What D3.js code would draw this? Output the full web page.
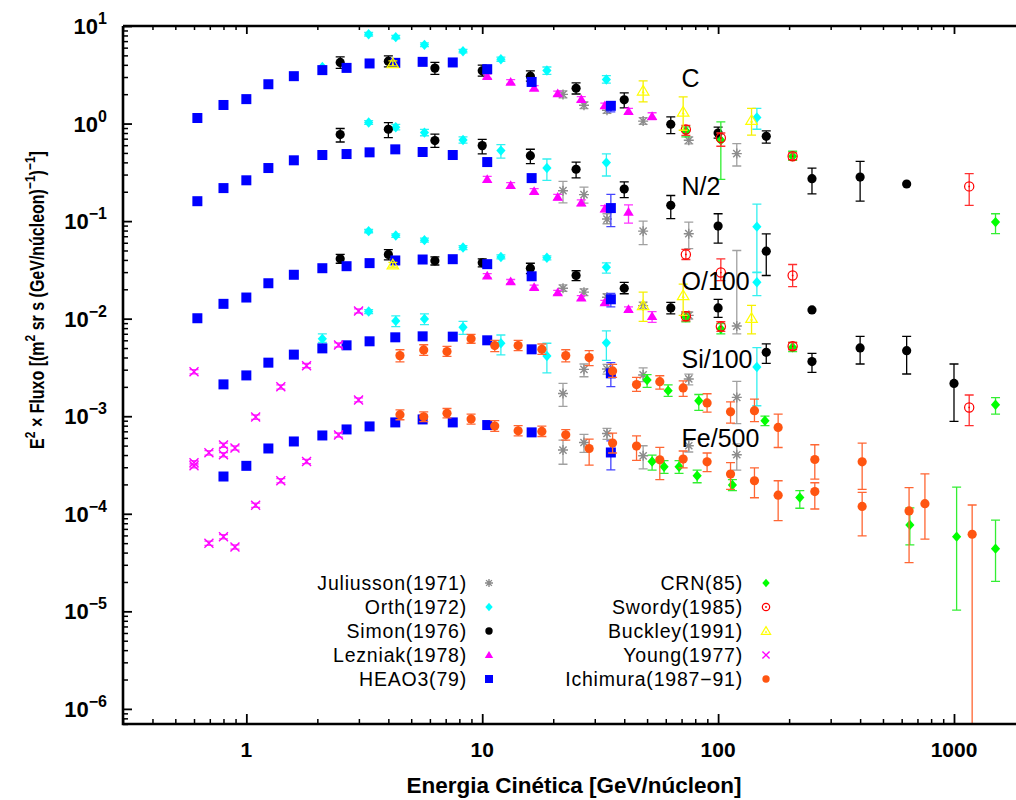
<!DOCTYPE html>
<html><head><meta charset="utf-8">
<script src="https://cdn.jsdelivr.net/npm/d3@7"></script>
<style>body{margin:0;background:#fff}svg{display:block}</style>
</head><body><svg id="c" width="1016" height="800"></svg>
<script>
// ---------- data: [E (GeV/nucleon), E^2 x flux, low, high] ----------
const juliusson = [
[22.0,1.99,1.83,2.16],[27.0,1.54,1.42,1.67],[33.8,1.37,1.27,1.48],[48.1,1.06,0.98,1.15],[75.1,0.674,0.62,0.73],[120,0.492,0.367,0.623],
[22.0,0.205,0.154,0.255],[27.0,0.187,0.153,0.223],[33.8,0.105,0.094,0.119],[48.1,0.0789,0.0574,0.100],[75.1,0.0743,0.0523,0.0977],
[22.0,0.0205,0.019,0.0222],[27.0,0.0187,0.0172,0.0202],[33.8,0.0166,0.0153,0.018],[48.1,0.0136,0.0125,0.0148],[75.1,0.0108,0.0099,0.0117],[120,0.0084,0.0070,0.050],
[22.0,0.00171,0.00126,0.00217],[27.0,0.00302,0.00254,0.00343],[33.8,0.00305,0.0027,0.0034],[48.1,0.00265,0.00226,0.00313],[75.1,0.00241,0.0021,0.0027],[120,0.00156,0.00084,0.00228],
[22.0,0.00045,0.000322,0.00057],[27.0,0.000538,0.000425,0.00065],[33.8,0.000666,0.00058,0.00075],[48.1,0.000393,0.000288,0.000498],[75.1,0.000498,0.00043,0.00057],[120,0.000403,0.00028,0.00052]
];
const orth = [
[2.1,3.8],[3.30,8.24,7.9,8.6],[4.30,7.69,7.4,8.0],[5.69,6.41,6.15,6.7],[8.29,5.52,5.3,5.75],[12.0,4.57,4.35,4.8],[18.8,3.50,3.2,3.8],[33.6,2.83,2.6,3.1],[146,1.152,0.874,1.43],
[3.30,1.024,0.98,1.07],[4.30,0.916,0.86,0.98],[5.69,0.808,0.75,0.87],[8.29,0.679,0.63,0.73],[12.0,0.528,0.443,0.609],[18.8,0.350,0.262,0.433],[33.6,0.398,0.29,0.49],[146,0.0877,0.0296,0.149],
[3.30,0.0789,0.076,0.082],[4.30,0.0713,0.068,0.074],[5.69,0.0638,0.061,0.067],[8.29,0.0537,0.051,0.056],[12.0,0.0429,0.041,0.045],[18.8,0.0421,0.040,0.044],[33.6,0.0337,0.0293,0.0374],[146,0.0236,0.0172,0.0300],
[2.1,0.00621,0.0057,0.0070],[3.30,0.01183,0.0113,0.0124],[4.30,0.00949,0.0083,0.0107],[5.69,0.00995,0.0087,0.0112],[8.29,0.00817,0.0069,0.0094],[12.0,0.0056,0.00425,0.0068],[18.8,0.00415,0.00278,0.0056],[33.6,0.00565,0.00373,0.0075],[146,0.0032,0.00128,0.00504]
];
const simon = [
[2.5,4.23,3.67,4.83],[4.0,4.36,3.81,4.95],[6.3,3.70,3.2,4.23],[10,3.47,3.06,3.97],[16,3.06,2.72,3.47],[25,2.30,2.01,2.61],[40,1.75,1.45,2.06],[63,0.984,0.79,1.17],[100,0.80,0.71,0.92],[160,0.74,0.63,0.84],[250,0.272,0.19,0.35],[400,0.283,0.16,0.41],[630,0.24],
[2.5,0.771,0.647,0.89],[4.0,0.874,0.718,1.02],[6.3,0.669,0.57,0.78],[10,0.594,0.49,0.69],[16,0.469,0.388,0.545],[25,0.34,0.277,0.403],[40,0.213,0.174,0.252],[63,0.145,0.106,0.183],[100,0.0889,0.0594,0.119],[160,0.0492,0.0277,0.074],
[2.5,0.0411,0.037,0.0455],[4.0,0.0455,0.040,0.051],[6.3,0.0392,0.0355,0.043],[10,0.0374,0.034,0.041],[16,0.0329,0.029,0.037],[25,0.0277,0.0245,0.031],[40,0.0205,0.018,0.0235],[63,0.0129,0.0112,0.0147],[100,0.0129,0.0103,0.0158],[250,0.0123],
[160,0.00452,0.00348,0.00551],[250,0.00363,0.00282,0.00441],[400,0.00501,0.00343,0.00659],[630,0.0047,0.00271,0.00659],[1000,0.00217,0.000885,0.00343]
];
const lezniak = [
[10.5,3.06,2.9,3.22],[13.2,2.67,2.53,2.82],[16.6,2.32,2.2,2.45],[20.9,2.03,1.92,2.15],[26.3,1.78,1.68,1.89],[33.1,1.53,1.44,1.62],[41.7,1.34,1.26,1.43],[52.5,1.19,1.1,1.29],
[10.5,0.268,0.25,0.287],[13.2,0.2326,0.218,0.248],[16.6,0.2018,0.189,0.215],[20.9,0.1764,0.165,0.188],[26.3,0.1545,0.144,0.165],[33.1,0.134,0.125,0.144],[41.7,0.1237,0.0953,0.147],
[10.5,0.0275,0.0262,0.0289],[13.2,0.024,0.0228,0.0252],[16.6,0.021,0.02,0.0221],[20.9,0.01853,0.0176,0.0195],[26.3,0.01635,0.0155,0.0172],[33.1,0.01463,0.0139,0.0154],[41.7,0.01249,0.0118,0.0132],[52.5,0.01058,0.00918,0.0118]
];
const heao3 = [
[0.62,1.14],[0.80,1.55],[1.0,1.78],[1.24,2.53],[1.59,3.06],[2.1,3.53],[2.66,3.72],[3.33,4.13],[4.28,4.19],[5.59,4.29],[7.5,4.23],[10.5,3.61],[16.2,2.67],[35.1,1.52,1.32,1.67],
[0.62,0.160],[0.80,0.218],[1.0,0.262],[1.24,0.35],[1.59,0.42],[2.1,0.476],[2.66,0.487],[3.33,0.507],[4.28,0.544],[5.59,0.511],[7.5,0.476],[10.5,0.403],[16.2,0.276],[35.1,0.136,0.088,0.188],
[0.62,0.0101],[0.80,0.01419],[1.0,0.01647],[1.24,0.02307],[1.59,0.02818],[2.1,0.0329],[2.66,0.0345],[3.33,0.0371],[4.28,0.0395],[5.59,0.0404],[7.5,0.0407],[10.5,0.0362],[16.2,0.0272],[35.1,0.0158,0.0132,0.0182],
[0.80,0.00212],[1.0,0.00262],[1.24,0.00354],[1.59,0.00428],[2.1,0.00496],[2.66,0.00533],[3.33,0.00586],[4.28,0.00644],[5.59,0.00659],[7.5,0.00654],[10.5,0.0060],[16.2,0.00485],[35.1,0.00275,0.00201,0.00354],
[0.80,0.000241],[1.0,0.00031],[1.24,0.000467],[1.59,0.000551],[2.1,0.000635],[2.66,0.000732],[3.33,0.000786],[4.28,0.000864],[5.59,0.000927],[7.5,0.000864],[10.5,0.000812],[16.2,0.000683],[35.1,0.000425,0.000282,0.00056]
];
const crn = [
[73,0.839,0.729,0.923],[102.7,0.674,0.268,1.04],[207,0.462,0.42,0.52],
[1500,0.0977,0.0743,0.119],
[73,0.01034,0.0093,0.0115],[102.7,0.00785,0.0070,0.0089],[207,0.00509,0.0046,0.0057],
[50,0.002355,0.00198,0.00267],[61.4,0.001828,0.0016,0.0021],[82.8,0.001443,0.00115,0.00167],[158,0.0009,0.0008,0.001],[1500,0.001313,0.00105,0.00155],
[52.5,0.000344,0.00028,0.0004],[59,0.000303,0.00026,0.00035],[68.3,0.000303,0.00026,0.00035],[81.5,0.000245,0.000208,0.00028],[115,0.000197,0.000173,0.000224],[222,0.0001466,0.000114,0.000173],[650,0.0000769,0.000048,0.000115],[1026,0.0000583,0.0000103,0.000188],[1500,0.0000439,0.0000203,0.000086]
];
const swordy = [
[73,0.868,0.758,0.96],[102.7,0.711,0.585,0.80],[207,0.462,0.427,0.50],[1160,0.227,0.145,0.307],
[73,0.0455,0.0404,0.0513],[102.7,0.0297,0.0245,0.041],[207,0.0277,0.0213,0.0359],
[73,0.01058,0.0095,0.0118],[102.7,0.0083,0.0074,0.0093],[207,0.00521,0.0048,0.0057],
[1160,0.00123,0.0008,0.00165]
];
const buckley = [
[4.18,4.13,3.9,4.4],[48.1,2.16,1.67,2.74],[71.1,1.315,0.854,1.88],[138.6,1.08,0.76,1.43],
[4.18,0.0357,0.0337,0.0378],[48.1,0.01365,0.0094,0.0187],[71.1,0.0173,0.0108,0.0226],[138.6,0.0101,0.0070,0.0137]
];
const young = [
[0.6,0.00286,0.00272,0.003],[1.4,0.0020,0.0019,0.0021],[1.8,0.0033,0.00314,0.00347],[2.46,0.00538,0.0051,0.00565],[2.99,0.0120,0.0114,0.0126],
[0.6,0.000333,0.000317,0.00035],[0.6,0.00031,0.000295,0.000326],[0.694,0.000422,0.0004,0.000443],[0.80,0.000506,0.00048,0.00053],[0.80,0.000403,0.000383,0.000423],[0.895,0.000472,0.00045,0.000496],[1.095,0.000982,0.00093,0.00103],[1.40,0.000218,0.000207,0.000229],[1.80,0.000344,0.000327,0.000361],[2.46,0.000641,0.00061,0.000673],[2.99,0.001466,0.0014,0.00154],
[0.694,0.0000499,0.0000474,0.0000524],[0.80,0.0000583,0.0000554,0.0000612],[0.895,0.0000457,0.0000434,0.000048],[1.095,0.0001226,0.0001165,0.0001287]
];
const ichimura = [
[4.48,0.00418,0.0036,0.0048],[5.65,0.00478,0.0042,0.0054],[7.09,0.0046,0.0041,0.0052],[8.97,0.00621,0.0056,0.0069],[11.3,0.0053,0.0046,0.0060],[14.2,0.0053,0.0047,0.0060],[17.9,0.00485,0.0043,0.0055],[22.6,0.00418,0.0036,0.0048],[28.4,0.00399,0.0033,0.0047],[35.7,0.00291,0.0025,0.0034],[45.1,0.00211,0.0018,0.0025],[56.6,0.00226,0.0019,0.0026],[71.1,0.00195,0.0016,0.0023],[89.8,0.00137,0.0011,0.0017],[112.9,0.00111,0.00085,0.0014],[142.6,0.00114,0.00088,0.0015],[179.7,0.000767,0.000478,0.00105],[257,0.00036,0.000227,0.00051],[408,0.000341,0.000178,0.00053],
[4.48,0.001036,0.00092,0.00116],[5.65,0.000988,0.00088,0.00111],[7.09,0.00107,0.00096,0.0012],[8.97,0.000936,0.00083,0.00105],[11.3,0.000793,0.0007,0.0009],[14.2,0.00071,0.00063,0.0008],[17.9,0.000698,0.00062,0.00079],[22.6,0.000646,0.00057,0.00073],[28.4,0.000467,0.000316,0.000583],[35.7,0.000531,0.00042,0.00067],[45.1,0.000494,0.000352,0.00063],[56.6,0.000357,0.000224,0.000479],[71.1,0.000364,0.000295,0.00044],[89.8,0.000341,0.00027,0.00042],[112.9,0.000255,0.000178,0.000335],[142.6,0.000218,0.000146,0.000295],[179.7,0.000155,0.000085,0.000218],[257,0.000169,0.000112,0.000208],[408,0.000119,0.0000593,0.000166],[645,0.000107,0.0000315,0.000185],[753,0.000127,0.000055,0.000257],[1194,0.0000617,0.0000001,0.000123]
];

const seriesNames = ["Juliusson(1971)","Orth(1972)","Simon(1976)","Lezniak(1978)","HEAO3(79)","CRN(85)","Swordy(1985)","Buckley(1991)","Young(1977)","Ichimura(1987\u221291)"];
const xMajorTicks = [1, 10, 100, 1000];
const yMajorExps = [1, 0, -1, -2, -3, -4, -5, -6];
const groupLabels = ["C", "N/2", "O/100", "Si/100", "Fe/500"];
const groupLabelE = [70, 70, 70, 70, 70];
const groupLabelV = [2.36, 0.1836, 0.01977, 0.00313, 0.000478];

// ---------- styles ----------
const seriesStyle = [
  {sym:"asterisk", color:"#8c8c8c", err:"#a0a0a0"},
  {sym:"diamond",  color:"#00ffff", err:"#33f0f0"},
  {sym:"circle",   color:"#000000", err:"#000000"},
  {sym:"triangle", color:"#ff00ff", err:"#ff33ff"},
  {sym:"square",   color:"#0000ff", err:"#4444ff"},
  {sym:"diamond",  color:"#00ff00", err:"#33ee33"},
  {sym:"ocircle",  color:"#ff0000", err:"#ff3030"},
  {sym:"otriangle",color:"#ffff00", err:"#f5f000"},
  {sym:"cross",    color:"#ff00ff", err:"#ff33ff"},
  {sym:"circle",   color:"#ff5511", err:"#ff6633"}
];
const seriesData = [juliusson, orth, simon, lezniak, heao3, crn, swordy, buckley, young, ichimura];

const M = {l:123, r:1025, t:26, b:724};
const x = d3.scaleLog().domain([0.3, 2000]).range([M.l, M.r]);
const y = d3.scaleLog().domain([7e-7, 10]).range([M.b, M.t]);
const svg = d3.select("#c");
const FONT = "'Liberation Sans', Arial, Helvetica, sans-serif";

svg.append("defs").append("clipPath").attr("id","pc")
  .append("rect").attr("x",M.l).attr("y",M.t).attr("width",M.r-M.l).attr("height",M.b-M.t);

function drawSymbol(g, type, cx, cy, color, k) {
  k = k || 1;
  const gg = g.append("g").attr("transform", `translate(${cx},${cy})`);
  if (type === "asterisk") {
    const s = 5*k, d = s*0.72;
    gg.append("path").attr("d",`M${-s},0H${s}M0,${-s}V${s}M${-d},${-d}L${d},${d}M${-d},${d}L${d},${-d}`)
      .attr("stroke", color).attr("stroke-width",1.4).attr("fill","none");
  } else if (type === "diamond") {
    const w = 4.6*k, h = 5.2*k;
    gg.append("path").attr("d",`M0,${-h}L${w},0L0,${h}L${-w},0Z`).attr("fill", color);
  } else if (type === "circle") {
    gg.append("circle").attr("r",4.6*k).attr("fill",color);
  } else if (type === "triangle") {
    const s = 5*k;
    gg.append("path").attr("d",`M0,${-s}L${s*1.05},${s*0.75}L${-s*1.05},${s*0.75}Z`).attr("fill",color);
  } else if (type === "square") {
    const s = 5*k;
    gg.append("rect").attr("x",-s).attr("y",-s).attr("width",2*s).attr("height",2*s).attr("fill",color);
  } else if (type === "ocircle") {
    gg.append("circle").attr("r",4.6*k).attr("fill","none").attr("stroke",color).attr("stroke-width",1.2);
    gg.append("circle").attr("r",0.9).attr("fill",color);
  } else if (type === "otriangle") {
    const s = 5.5*k;
    gg.append("path").attr("d",`M0,${-s}L${s*1.05},${s*0.75}L${-s*1.05},${s*0.75}Z`).attr("fill","none").attr("stroke",color).attr("stroke-width",1.2);
    gg.append("path").attr("d",`M0,${-s*0.15}L${s*0.3},${s*0.4}L${-s*0.3},${s*0.4}Z`).attr("fill",color);
  } else if (type === "cross") {
    const s = 4.5*k;
    gg.append("path").attr("d",`M${-s},${-s}L${s},${s}M${-s},${s}L${s},${-s}`).attr("stroke",color).attr("stroke-width",1.4).attr("fill","none");
  }
}

// ---------- data layer ----------
const plot = svg.append("g").attr("clip-path","url(#pc)");
seriesData.forEach((data, i) => {
  const st = seriesStyle[i];
  const g = plot.append("g");
  data.forEach(d => {
    const cx = x(d[0]), cy = y(d[1]);
    if (d.length > 3) {
      const y1 = y(d[2]), y2 = y(d[3]);
      g.append("path").attr("d",`M${cx},${y1}V${y2}M${cx-4.5},${y1}H${cx+4.5}M${cx-4.5},${y2}H${cx+4.5}`)
        .attr("stroke", st.err).attr("stroke-width",1.3).attr("fill","none");
    }
    drawSymbol(g, st.sym, cx, cy, st.color);
  });
});

// ---------- axes ----------
const axG = svg.append("g");
function styleAxis(sel, w) {
  sel.select(".domain").remove();
  sel.selectAll(".tick line").attr("stroke","#000").attr("stroke-width",w);
  sel.selectAll(".tick text").remove();
}
const xMinor = x.ticks().filter(v => !xMajorTicks.includes(v));
const yMinor = y.ticks().filter(v => Math.abs(Math.log10(v) - Math.round(Math.log10(v))) > 1e-6);
const yMajor = yMajorExps.map(e => Math.pow(10, e));

axG.append("g").attr("transform",`translate(0,${M.b})`).call(d3.axisBottom(x).tickValues(xMinor).tickSize(-5)).call(styleAxis,1.5);
axG.append("g").attr("transform",`translate(0,${M.b})`).call(d3.axisBottom(x).tickValues(xMajorTicks).tickSize(-10)).call(styleAxis,1.8);
axG.append("g").attr("transform",`translate(0,${M.t})`).call(d3.axisTop(x).tickValues(xMinor).tickSize(-4)).call(styleAxis,1.5);
axG.append("g").attr("transform",`translate(0,${M.t})`).call(d3.axisTop(x).tickValues(xMajorTicks).tickSize(-8)).call(styleAxis,1.8);
axG.append("g").attr("transform",`translate(${M.l},0)`).call(d3.axisLeft(y).tickValues(yMinor).tickSize(-5)).call(styleAxis,1.5);
axG.append("g").attr("transform",`translate(${M.l},0)`).call(d3.axisLeft(y).tickValues(yMajor).tickSize(-9)).call(styleAxis,1.8);

// axis lines
axG.append("path").attr("d",`M${M.l},${M.t}V${M.b}H${M.r}M${M.l},${M.t}H${M.r}`)
  .attr("stroke","#000").attr("stroke-width",2.6).attr("fill","none");

// x tick labels
axG.selectAll(".xl").data(xMajorTicks).enter().append("text")
  .attr("x", d => x(d)).attr("y", 757).attr("text-anchor","middle")
  .attr("font-family",FONT).attr("font-weight","bold").attr("font-size",21).text(d => d);

// y tick labels
yMajorExps.forEach(e => {
  const t = axG.append("text").attr("x",107).attr("y", y(Math.pow(10,e)) + 8)
    .attr("text-anchor","end").attr("font-family",FONT).attr("font-weight","bold").attr("font-size",22);
  t.append("tspan").text("10");
  t.append("tspan").attr("dy",-10).attr("font-size",16).text(e < 0 ? "\u2212" + (-e) : String(e));
});

// axis titles
svg.append("text").attr("x",(M.l+M.r)/2).attr("y",793).attr("text-anchor","middle")
  .attr("font-family",FONT).attr("font-weight","bold").attr("font-size",22.5)
  .text("Energia Cin\u00e9tica [GeV/n\u00facleon]");

const yt = svg.append("text").attr("transform","translate(44,300) rotate(-90) scale(1,1.22)")
  .attr("text-anchor","middle").attr("font-family",FONT).attr("font-weight","bold").attr("font-size",16);
const ytParts = [["E",0],["2",1],[" \u00d7 Fluxo [(m",0],["2",1],[" sr s (GeV/n\u00facleon)",0],["\u22121",1],[")",0],["\u22121",1],["]",0]];
let prevSup = false;
ytParts.forEach(p => {
  const ts = yt.append("tspan").text(p[0]);
  if (p[1] && !prevSup) ts.attr("dy",-7).attr("font-size",12);
  else if (!p[1] && prevSup) ts.attr("dy",7);
  prevSup = !!p[1];
});

// group labels
groupLabels.forEach((lab, i) => {
  svg.append("text").attr("x", x(groupLabelE[i])).attr("y", y(groupLabelV[i]))
    .attr("font-family",FONT).attr("font-size",25).attr("fill","#000").text(lab);
});

// ---------- legend ----------
const legX = [[467, 489], [743, 766]];
const legY0 = 583, legDy = 24;
seriesNames.forEach((name, i) => {
  const col = i < 5 ? 0 : 1, row = i % 5;
  const cy = legY0 + row*legDy;
  svg.append("text").attr("x", legX[col][0]).attr("y", cy + 7).attr("text-anchor","end")
    .attr("font-family",FONT).attr("font-size",19.5).attr("letter-spacing","0.8px").text(name);
  drawSymbol(svg, seriesStyle[i].sym, legX[col][1], cy, seriesStyle[i].color, 0.8);
});
</script>
</body></html>
